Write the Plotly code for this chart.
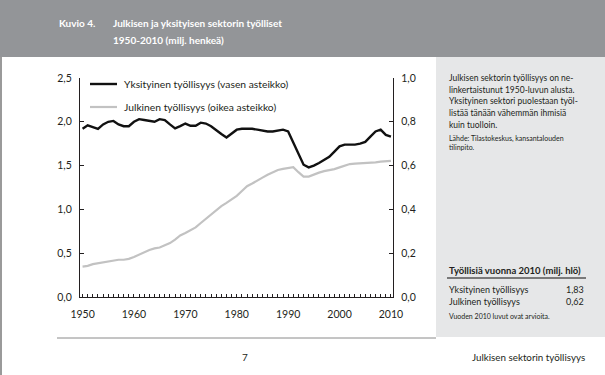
import plotly.graph_objects as go

years = list(range(1950, 2011))
private = [1.92, 1.96, 1.94, 1.92, 1.97, 2.00, 2.01, 1.97, 1.95, 1.95,
           2.00, 2.03, 2.02, 2.01, 2.00, 2.03, 2.02, 1.97, 1.925, 1.95,
           1.98, 1.955, 1.955, 1.99, 1.98, 1.95, 1.90, 1.86, 1.82, 1.86,
           1.91, 1.92, 1.92, 1.92, 1.91, 1.90, 1.89, 1.89, 1.90, 1.91,
           1.89, 1.76, 1.62, 1.51, 1.48, 1.50, 1.53, 1.57, 1.60, 1.66,
           1.72, 1.74, 1.74, 1.74, 1.75, 1.77, 1.83, 1.89, 1.91, 1.85,
           1.83]
public = [0.139, 0.142, 0.150, 0.154, 0.158, 0.162, 0.166, 0.170, 0.170, 0.174,
          0.183, 0.194, 0.205, 0.215, 0.222, 0.226, 0.236, 0.246, 0.262, 0.281,
          0.292, 0.305, 0.318, 0.338, 0.357, 0.380, 0.398, 0.415, 0.430, 0.447,
          0.462, 0.484, 0.506, 0.518, 0.530, 0.545, 0.558, 0.570, 0.580, 0.585,
          0.589, 0.593, 0.570, 0.550, 0.550, 0.560, 0.568, 0.575, 0.578, 0.584,
          0.592, 0.600, 0.607, 0.609, 0.610, 0.612, 0.613, 0.615, 0.618, 0.620,
          0.622]
x_ticks = [1950, 1960, 1970, 1980, 1990, 2000, 2010]
left_ticks = [0, 0.5, 1.0, 1.5, 2.0, 2.5]
right_ticks = [0, 0.2, 0.4, 0.6, 0.8, 1.0]
name_private = "Yksityinen työllisyys (vasen asteikko)"
name_public = "Julkinen työllisyys (oikea asteikko)"

W, H = 605, 375
L, R, T, B = 80, 393, 78, 297
FONT = "Lato"
TXT = "#231f20"


def px(x):
    return (x - L) / (R - L)


def py(y):
    return (B - y) / (B - T)


fig = go.Figure()
fig.add_trace(go.Scatter(x=years, y=public, yaxis="y2", mode="lines",
                         line=dict(color="#c2c2c2", width=2.2), name=name_public,
                         showlegend=False))
fig.add_trace(go.Scatter(x=years, y=private, mode="lines",
                         line=dict(color="#111111", width=2.4), name=name_private,
                         showlegend=False))

shapes = []
# header band
shapes.append(dict(type="rect", xref="paper", yref="paper", x0=px(0), x1=px(W),
                   y0=py(57), y1=py(0), fillcolor="#939598", line_width=0, layer="below"))
# right panel
shapes.append(dict(type="rect", xref="paper", yref="paper", x0=px(436), x1=px(W),
                   y0=py(337), y1=py(57), fillcolor="#e6e7e8", line_width=0, layer="below"))
# bottom rule
shapes.append(dict(type="line", xref="paper", yref="paper", x0=px(57), x1=px(436),
                   y0=py(338), y1=py(338), line=dict(color="#8a8a8a", width=1)))
# left edge
shapes.append(dict(type="line", xref="paper", yref="paper", x0=px(1), x1=px(1),
                   y0=py(57), y1=py(H), line=dict(color="#9a9a9a", width=2)))
# table rule
shapes.append(dict(type="line", xref="paper", yref="paper", x0=px(447), x1=px(586),
                   y0=py(278), y1=py(278), line=dict(color="#555555", width=1.5)))
# legend samples
shapes.append(dict(type="line", xref="paper", yref="paper", x0=px(90), x1=px(117),
                   y0=py(84), y1=py(84), line=dict(color="#111111", width=2.4)))
shapes.append(dict(type="line", xref="paper", yref="paper", x0=px(90), x1=px(117),
                   y0=py(107), y1=py(107), line=dict(color="#c2c2c2", width=2.2)))

ann = []


def text(x, y, s, size=10, color=TXT, anchor="left", bold=False):
    if bold:
        s = "<b>" + s + "</b>"
    ann.append(dict(x=px(x), y=py(y), xref="paper", yref="paper", text=s,
                    showarrow=False, xanchor=anchor, yanchor="middle",
                    font=dict(family=FONT, size=size, color=color)))


text(57, 23, "Kuvio 4.", 10, "white", bold=True)
text(111, 23, "Julkisen ja yksityisen sektorin työlliset", 10, "white", bold=True)
text(111, 40, "1950-2010 (milj. henkeä)", 10, "white", bold=True)

text(122, 84, name_private, 10.3)
text(122, 107, name_public, 10.3)

body = ["Julkisen sektorin työllisyys on ne-",
        "linkertaistunut 1950-luvun alusta.",
        "Yksityinen sektori puolestaan työl-",
        "listää tänään vähemmän ihmisiä",
        "kuin tuolloin."]
for i, s in enumerate(body):
    text(447, 78 + i * 11.7, s, 8.5)
text(447, 138, "Lähde: Tilastokeskus, kansantalouden", 7)
text(447, 147, "tilinpito.", 7)

text(447, 270, "Työllisiä vuonna 2010 (milj. hlö)", 9.5, bold=True)
text(447, 289, "Yksityinen työllisyys", 9)
text(586, 289, "1,83", 9, anchor="right")
text(447, 301, "Julkinen työllisyys", 9)
text(586, 301, "0,62", 9, anchor="right")
text(447, 316, "Vuoden 2010 luvut ovat arvioita.", 7)

text(245, 357, "7", 10, anchor="center")
text(587, 357, "Julkisen sektorin työllisyys", 9.8, anchor="right")

fig.update_layout(
    width=W, height=H,
    margin=dict(l=L, r=W - R, t=T, b=H - B, pad=0),
    paper_bgcolor="white", plot_bgcolor="rgba(0,0,0,0)",
    separators=", ",
    shapes=shapes, annotations=ann,
    font=dict(family=FONT, size=10, color=TXT),
    xaxis=dict(range=[1949.5, 2010.4], tickvals=x_ticks, ticks="inside", ticklen=3,
               tickcolor=TXT, showgrid=False, zeroline=False, showline=True,
               linecolor=TXT, linewidth=1.2, ticklabelstandoff=7,
               minor=dict(ticks="inside", dtick=1, tick0=1950, ticklen=3, tickcolor=TXT),
               tickfont=dict(family=FONT, size=10.5, color=TXT)),
    yaxis=dict(range=[0, 2.5], tickvals=left_ticks, tickformat=".1f", ticks="inside",
               ticklen=4, tickcolor=TXT, showgrid=False, zeroline=False,
               showline=True, linecolor=TXT, linewidth=1.2, ticklabelstandoff=5,
               tickfont=dict(family=FONT, size=10.5, color=TXT)),
    yaxis2=dict(range=[0, 1.0], tickvals=right_ticks, tickformat=".1f", overlaying="y",
                side="right", ticks="inside", ticklen=4, tickcolor=TXT, showgrid=False,
                zeroline=False, showline=True, linecolor=TXT, linewidth=1.2,
                ticklabelstandoff=5,
                tickfont=dict(family=FONT, size=10.5, color=TXT)),
)

fig.write_html("out.html", config={"displayModeBar": False},
               post_script="document.body.style.margin='0';document.body.style.overflow='hidden';")
